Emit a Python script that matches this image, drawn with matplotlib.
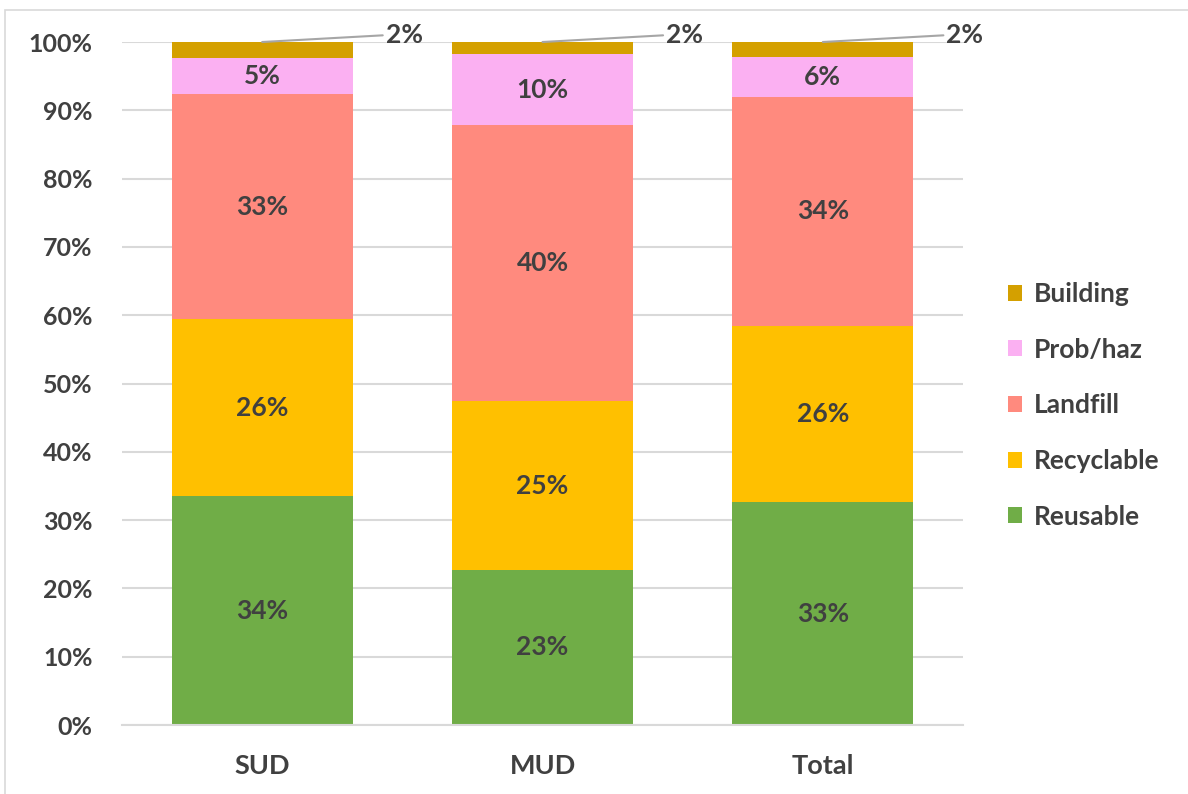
import numpy as np
import matplotlib.pyplot as plt
from matplotlib.patches import Rectangle
from matplotlib.ticker import PercentFormatter

plt.rc('font', family=['Lato', 'DejaVu Sans'], weight='bold', size=19)

# DATA (percent of each group)
groups = ['SUD', 'MUD', 'Total']
series = ['Reusable', 'Recyclable', 'Landfill', 'Prob/haz', 'Building']
reusable = [33.5, 22.7, 32.6]
recyclable = [25.9, 24.7, 25.8]
landfill = [33.0, 40.4, 33.6]
probhaz = [5.3, 10.4, 5.8]
building = [2.3, 1.8, 2.2]
colors = ['#70AD47', '#FFC000', '#FF8A7E', '#FBB0F2', '#D4A000']

values = [reusable, recyclable, landfill, probhaz, building]
TXT = '#404040'

fig = plt.figure(figsize=(11.88, 7.94), dpi=100)
ax = fig.add_axes([0.1027, 0.0869, 0.7079, 0.8602])
fig.patches.append(Rectangle((0.004, -0.05), 1.1, 1.037, transform=fig.transFigure,
                             fill=False, edgecolor='#D9D9D9', linewidth=1.2))

x = np.arange(len(groups))
bottom = np.zeros(len(groups))
handles = []
for name, vals, col in zip(series, values, colors):
    vals = np.array(vals)
    b = ax.bar(x, vals, 0.645, bottom=bottom, color=col, label=name, zorder=2)
    handles.append(b)
    for xi, v, b0 in zip(x, vals, bottom):
        if name == 'Building':
            ax.annotate(f'{v:.0f}%', xy=(xi, b0 + v), xytext=(xi + 0.44, 101.0),
                        ha='left', va='center', color=TXT, fontsize=19,
                        annotation_clip=False,
                        arrowprops=dict(arrowstyle='-', color='#A6A6A6', lw=1.5,
                                        shrinkA=0, shrinkB=0, relpos=(0, 0.5)))
        else:
            ax.text(xi, b0 + v / 2, f'{v:.0f}%', ha='center', va='center',
                    color=TXT, fontsize=19)
    bottom += vals

ax.set_xlim(-0.5, 2.5)
ax.set_ylim(0, 100)
ax.set_yticks(np.arange(0, 101, 10))
ax.yaxis.set_major_formatter(PercentFormatter(decimals=0))
ax.set_xticks(x, groups)
ax.grid(axis='y', color='#D9D9D9', linewidth=1.5, zorder=0)
for s in ['top', 'right', 'left']:
    ax.spines[s].set_visible(False)
ax.spines['bottom'].set_color('#D9D9D9')
ax.spines['bottom'].set_linewidth(1.5)
ax.tick_params(axis='both', length=0, colors=TXT)
ax.tick_params(axis='y', pad=21, labelsize=18)
ax.tick_params(axis='x', pad=21, labelsize=19.5)

leg = ax.legend(handles[::-1], series[::-1], loc='center left',
                bbox_to_anchor=(1.025, 0.468), frameon=False, fontsize=19,
                handlelength=0.55, handleheight=0.55, handletextpad=0.45,
                labelspacing=1.2, labelcolor=TXT)

fig.savefig('out.png', dpi=100)
